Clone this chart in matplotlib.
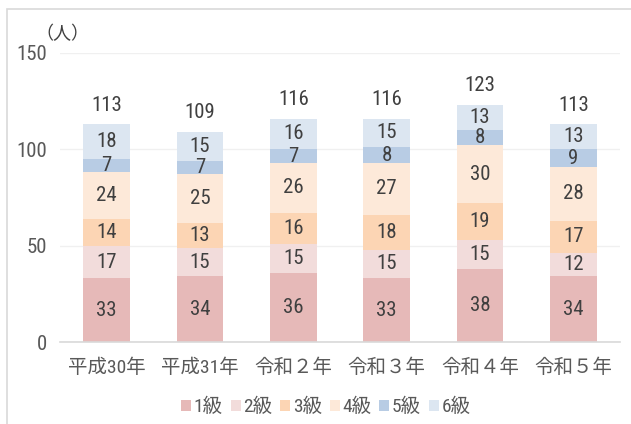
import numpy as np
import matplotlib.pyplot as plt
from matplotlib.patches import Rectangle

years = ['平成30年', '平成31年', '令和２年', '令和３年', '令和４年', '令和５年']
grades = ['1級', '2級', '3級', '4級', '5級', '6級']
g1 = [33, 34, 36, 33, 38, 34]
g2 = [17, 15, 15, 15, 15, 12]
g3 = [14, 13, 16, 18, 19, 17]
g4 = [24, 25, 26, 27, 30, 28]
g5 = [7, 7, 7, 8, 8, 9]
g6 = [18, 15, 16, 15, 13, 13]
totals = [113, 109, 116, 116, 123, 113]

colors = ['#E6B9B8', '#F2DCDB', '#FCD5B4', '#FDE9D9', '#B8CCE4', '#DCE6F1']
fonts = ['Roboto Condensed', 'Archivo Narrow', 'Noto Sans CJK JP', 'DejaVu Sans']


def main():
    plt.rcParams['font.family'] = fonts
    fig = plt.figure(figsize=(6.31, 4.24), dpi=100)
    # outer frame like the Excel chart area
    fig.patches.append(Rectangle((7 / 631, -0.1), 1.2, (424 - 9) / 424 + 0.1,
                                 transform=fig.transFigure, fill=False,
                                 edgecolor='#D9D9D9', linewidth=1.2))
    ax = fig.add_axes([60 / 631, (424 - 342) / 424, 560 / 631, 289 / 424])

    x = np.arange(len(years))
    bottom = np.zeros(len(years))
    for vals, c, g in zip([g1, g2, g3, g4, g5, g6], colors, grades):
        ax.bar(x, vals, 0.5, bottom=bottom, color=c, label=g, zorder=2)
        for xi, b, v in zip(x, bottom, vals):
            ax.text(xi, b + v / 2, str(v), ha='center', va='center',
                    fontsize=15, color='#404040', zorder=3)
        bottom += vals

    for xi, t in zip(x, totals):
        ax.text(xi, t + 10, str(t), ha='center', va='center',
                fontsize=15, color='#404040')

    ax.set_xlim(-0.5, len(years) - 0.5)
    ax.set_ylim(0, 150)
    ax.set_yticks([0, 50, 100, 150])
    ax.grid(axis='y', color='#F0F0F0', linewidth=1, zorder=0)
    for s in ['top', 'right', 'left']:
        ax.spines[s].set_visible(False)
    ax.spines['bottom'].set_color('#D9D9D9')
    ax.spines['bottom'].set_linewidth(1.2)
    ax.tick_params(length=0)
    ax.tick_params(axis='y', labelsize=15, labelcolor='#595959', pad=9)
    ax.set_xticks(x)
    ax.set_xticklabels(years, fontsize=14, color='#595959')
    ax.tick_params(axis='x', pad=12)
    ax.text(0.004, 1.065, '（人）', transform=ax.transAxes, fontsize=13,
            color='#404040', ha='center', va='center')

    ax.legend(loc='center', bbox_to_anchor=(0.475, -0.225), ncol=6,
              frameon=False, fontsize=14, handlelength=0.5, handleheight=0.5,
              handletextpad=0.15, columnspacing=0.4, labelcolor='#595959')

    plt.savefig('out.png', dpi=100)


if __name__ == "__main__":
    main()
